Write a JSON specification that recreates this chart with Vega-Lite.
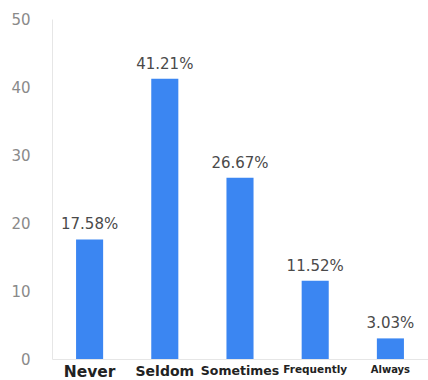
{
  "$schema": "https://vega.github.io/schema/vega-lite/v6.json",
  "width": 376,
  "height": 340,
  "autosize": {"type": "none"},
  "padding": {"left": 52, "top": 19, "right": 0, "bottom": 21},
  "background": "white",
  "config": {"view": {"stroke": null}, "font": "DejaVu Sans"},
  "data": {
    "values": [
      {"answer": "Never", "pct": 17.58},
      {"answer": "Seldom", "pct": 41.21},
      {"answer": "Sometimes", "pct": 26.67},
      {"answer": "Frequently", "pct": 11.52},
      {"answer": "Always", "pct": 3.03}
    ]
  },
  "encoding": {
    "x": {
      "field": "answer",
      "type": "nominal",
      "sort": null,
      "scale": {"paddingInner": 0.64, "paddingOuter": 0.32},
      "axis": {
        "title": null,
        "labelAngle": 0,
        "ticks": false,
        "domainColor": "#e6e6e6",
        "labelColor": "#222222",
        "labelFont": "DejaVu Sans",
        "labelFontWeight": "bold",
        "labelPadding": 5,
        "labelBaseline": "top",
        "labelFontSize": {"expr": "datum.value === 'Never' ? 15.5 : datum.value === 'Seldom' ? 14 : datum.value === 'Sometimes' ? 12.5 : datum.value === 'Frequently' ? 10.5 : 10"}
      }
    },
    "y": {
      "field": "pct",
      "type": "quantitative",
      "scale": {"domain": [0, 50], "nice": false},
      "axis": {
        "title": null,
        "values": [0, 10, 20, 30, 40, 50],
        "grid": false,
        "ticks": false,
        "domainColor": "#e6e6e6",
        "labelColor": "#8a8a8a",
        "labelFontSize": 15,
        "labelPadding": 22
      }
    }
  },
  "layer": [
    {"mark": {"type": "bar", "color": "#3b86f2"}},
    {
      "mark": {
        "type": "text",
        "dy": -10,
        "fontSize": 15,
        "color": "#4a4a4a",
        "baseline": "alphabetic",
        "text": {"expr": "format(datum.pct, '.2f') + '%'"}
      }
    }
  ]
}
